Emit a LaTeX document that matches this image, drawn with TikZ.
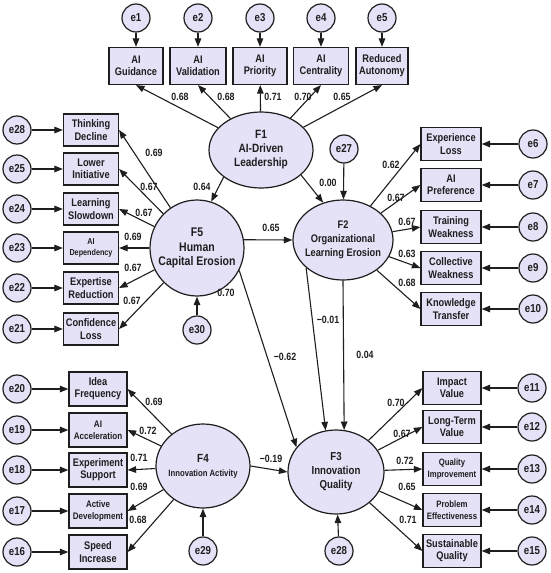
\documentclass[tikz,border=0pt]{standalone}
\usepackage{fontspec}
\setmainfont{Liberation Sans}[FakeStretch=0.84]
\usepackage{tikz}
\usetikzlibrary{arrows.meta,shapes.geometric}

\definecolor{lav}{RGB}{229,225,247}
\definecolor{ink}{RGB}{30,30,30}

\begin{document}
\begin{tikzpicture}[x=1pt,y=-1pt,every node/.style={text=ink},
    lat/.style={ellipse,draw=ink,fill=lav,line width=1.2pt,inner sep=-8pt,align=center},
    obs/.style={rectangle,draw=ink,fill=lav,line width=1.2pt,inner sep=1pt,minimum height=33pt,align=center,font=\bfseries\fontsize{11}{12.2}\selectfont},
    err/.style={circle,draw=ink,fill=lav,line width=1.2pt,minimum size=28pt,inner sep=0pt,font=\bfseries\fontsize{11.5}{12}\selectfont},
    coef/.style={inner sep=0pt,font=\bfseries\fontsize{10.5}{11}\selectfont},
    arr/.style={draw=ink,line width=1.1pt,-{Triangle[length=8.5pt,width=6.5pt]}}]
  \useasboundingbox[fill=white] (0,0) rectangle (550,573);

  % latent factors
  \node[lat,minimum width=104pt,minimum height=76pt,font=\bfseries\fontsize{12}{14}\selectfont](F1) at (261,150){F1\\AI-Driven\\Leadership};
  \node[lat,minimum width=94pt,minimum height=96pt,font=\bfseries\fontsize{12.5}{14.5}\selectfont](F5) at (197,248){F5\\Human\\Capital Erosion};
  \node[lat,minimum width=100pt,minimum height=80pt,font=\bfseries\fontsize{11}{14}\selectfont](F2) at (343,240){F2\\Organizational\\Learning Erosion};
  \node[lat,minimum width=94pt,minimum height=84pt,font=\bfseries\fontsize{11.8}{14}\selectfont](F4) at (203,466){F4\\{\fontsize{9.2}{12}\selectfont Innovation Activity}};
  \node[lat,minimum width=96pt,minimum height=84pt,font=\bfseries\fontsize{11.5}{14}\selectfont](F3) at (336,472){F3\\Innovation\\Quality};

  % F1 indicators
  \node[obs,minimum width=54pt,minimum height=37pt](x1) at (136,66){AI\\Guidance};
  \node[obs,minimum width=56pt,minimum height=37pt](x2) at (198,66){AI\\Validation};
  \node[obs,minimum width=54pt,minimum height=37pt](x3) at (260,66){AI\\Priority};
  \node[obs,minimum width=55pt,minimum height=37pt](x4) at (321,66){AI\\Centrality};
  \node[obs,minimum width=52pt,minimum height=37pt](x5) at (382,66){Reduced\\Autonomy};
  \node[err](e1) at (136,18){e1};
  \node[err](e2) at (198,18){e2};
  \node[err](e3) at (260,18){e3};
  \node[err](e4) at (321,18){e4};
  \node[err](e5) at (382,18){e5};

  % F5 indicators
  \node[obs,minimum width=55pt,minimum height=32pt](h1) at (91,130){Thinking\\Decline};
  \node[obs,minimum width=55pt,minimum height=32pt](h2) at (91,169){Lower\\Initiative};
  \node[obs,minimum width=55pt,minimum height=32pt](h3) at (91,209){Learning\\Slowdown};
  \node[obs,minimum width=55pt,minimum height=32pt,font=\bfseries\fontsize{8.6}{11}\selectfont](h4) at (91,248){AI\\Dependency};
  \node[obs,minimum width=55pt,minimum height=32pt](h5) at (91,288){Expertise\\Reduction};
  \node[obs,minimum width=55pt,minimum height=32pt](h6) at (91,329){Confidence\\Loss};
  \node[err](e28) at (17,130){e28};
  \node[err](e25) at (17,169){e25};
  \node[err](e24) at (17,209){e24};
  \node[err](e23) at (17,248){e23};
  \node[err](e22) at (17,288){e22};
  \node[err](e21) at (17,329){e21};

  % F2 indicators
  \node[obs,minimum width=60pt](o1) at (451,144){Experience\\Loss};
  \node[obs,minimum width=60pt](o2) at (451,185){AI\\Preference};
  \node[obs,minimum width=60pt](o3) at (451,227){Training\\Weakness};
  \node[obs,minimum width=60pt](o4) at (451,268){Collective\\Weakness};
  \node[obs,minimum width=60pt](o5) at (451,309){Knowledge\\Transfer};
  \node[err](e6) at (533,144){e6};
  \node[err](e7) at (533,185){e7};
  \node[err](e8) at (533,227){e8};
  \node[err](e9) at (533,268){e9};
  \node[err](e10) at (533,309){e10};

  % F4 indicators
  \node[obs,minimum width=58pt,minimum height=34pt](a1) at (98,389){Idea\\Frequency};
  \node[obs,minimum width=58pt,minimum height=34pt,font=\bfseries\fontsize{9.6}{12}\selectfont](a2) at (98,430){AI\\Acceleration};
  \node[obs,minimum width=58pt,minimum height=34pt](a3) at (98,470){Experiment\\Support};
  \node[obs,minimum width=58pt,minimum height=34pt,font=\bfseries\fontsize{9.5}{12}\selectfont](a4) at (98,511){Active\\Development};
  \node[obs,minimum width=58pt,minimum height=34pt](a5) at (98,552){Speed\\Increase};
  \node[err](e20) at (17,389){e20};
  \node[err](e19) at (17,430){e19};
  \node[err](e18) at (17,470){e18};
  \node[err](e17) at (17,511){e17};
  \node[err](e16) at (17,552){e16};

  % F3 indicators
  \node[obs,minimum width=58pt](q1) at (452,388){Impact\\Value};
  \node[obs,minimum width=58pt](q2) at (452,427){Long-Term\\Value};
  \node[obs,minimum width=58pt,font=\bfseries\fontsize{9.2}{11.5}\selectfont](q3) at (452,469){Quality\\Improvement};
  \node[obs,minimum width=58pt,font=\bfseries\fontsize{9.3}{12}\selectfont](q4) at (452,510){Problem\\Effectiveness};
  \node[obs,minimum width=58pt](q5) at (452,551){Sustainable\\Quality};
  \node[err](e11) at (532,388){e11};
  \node[err](e12) at (532,427){e12};
  \node[err](e13) at (532,469){e13};
  \node[err](e14) at (532,510){e14};
  \node[err](e15) at (532,551){e15};

  % disturbances
  \node[err](e27) at (344,149){e27};
  \node[err](e30) at (197,330){e30};
  \node[err](e29) at (203,551){e29};
  \node[err](e28b) at (339,551){e28};

  % loadings
  \draw[arr] (F1) -- (x1.south);
  \draw[arr] (F1) -- (x2.south);
  \draw[arr] (F1) -- (x3);
  \draw[arr] (F1) -- (x4.south);
  \draw[arr] (F1) -- (x5.south);
  \draw[arr] (F5) -- (h1.east);
  \draw[arr] (F5) -- (h2.east);
  \draw[arr] (F5) -- (h3.east);
  \draw[arr] (F5) -- (h4.east);
  \draw[arr] (F5) -- (h5.east);
  \draw[arr] (F5) -- (h6.east);
  \draw[arr] (F2) -- (o1.west);
  \draw[arr] (F2) -- (o2.west);
  \draw[arr] (F2) -- (o3.west);
  \draw[arr] (F2) -- (o4.west);
  \draw[arr] (F2) -- (o5.west);
  \draw[arr] (F4) -- (a1.east);
  \draw[arr] (F4) -- (a2.east);
  \draw[arr] (F4) -- (a3.east);
  \draw[arr] (F4) -- (a4.east);
  \draw[arr] (F4) -- (a5.east);
  \draw[arr] (F3) -- (q1.west);
  \draw[arr] (F3) -- (q2.west);
  \draw[arr] (F3) -- (q3.west);
  \draw[arr] (F3) -- (q4.west);
  \draw[arr] (F3) -- (q5.west);

  % errors
  \draw[arr] (e1) -- (x1);
  \draw[arr] (e2) -- (x2);
  \draw[arr] (e3) -- (x3);
  \draw[arr] (e4) -- (x4);
  \draw[arr] (e5) -- (x5);
  \draw[arr] (e28) -- (h1);
  \draw[arr] (e25) -- (h2);
  \draw[arr] (e24) -- (h3);
  \draw[arr] (e23) -- (h4);
  \draw[arr] (e22) -- (h5);
  \draw[arr] (e21) -- (h6);
  \draw[arr] (e6) -- (o1);
  \draw[arr] (e7) -- (o2);
  \draw[arr] (e8) -- (o3);
  \draw[arr] (e9) -- (o4);
  \draw[arr] (e10) -- (o5);
  \draw[arr] (e20) -- (a1);
  \draw[arr] (e19) -- (a2);
  \draw[arr] (e18) -- (a3);
  \draw[arr] (e17) -- (a4);
  \draw[arr] (e16) -- (a5);
  \draw[arr] (e11) -- (q1);
  \draw[arr] (e12) -- (q2);
  \draw[arr] (e13) -- (q3);
  \draw[arr] (e14) -- (q4);
  \draw[arr] (e15) -- (q5);
  \draw[arr] (e27) -- (F2);
  \draw[arr] (e30) -- (F5);
  \draw[arr] (e29) -- (F4);
  \draw[arr] (e28b) -- (F3);

  % structural paths
  \draw[arr] (F1.216) -- (F5.73);
  \draw[arr] (F1.328) -- (F2.118);
  \draw[arr] (F5.10) -- (F2.west);
  \draw[arr] (F5.332) -- (F3.148);
  \draw[arr] (F2.217) -- (F3.104);
  \draw[arr] (F2.south) -- (F3.79);
  \draw[arr] (F4.east) -- (F3.west);

  % coefficients
  \node[coef](kx1) at (180,97){0.68};
  \node[coef](kx2) at (226,97){0.68};
  \node[coef](kx3) at (273,97){0.71};
  \node[coef](kx4) at (303,97){0.70};
  \node[coef](kx5) at (342,97){0.65};
  \node[coef](kh1) at (154,153){0.69};
  \node[coef](kh2) at (149,187){0.67};
  \node[coef](kh3) at (144,213){0.67};
  \node[coef](kh4) at (133,237){0.69};
  \node[coef](kh5) at (133,268){0.67};
  \node[coef](kh6) at (132,301){0.67};
  \node[coef](ko1) at (391,165){0.62};
  \node[coef](ko2) at (396,198){0.67};
  \node[coef](ko3) at (407,222){0.67};
  \node[coef](ko4) at (407,254){0.63};
  \node[coef](ko5) at (407,283){0.68};
  \node[coef](ka1) at (154,402){0.69};
  \node[coef](ka2) at (148,431){0.72};
  \node[coef](ka3) at (139,458){0.71};
  \node[coef](ka4) at (139,487){0.69};
  \node[coef](ka5) at (138,520){0.68};
  \node[coef](kq1) at (396,403){0.70};
  \node[coef](kq2) at (402,434){0.67};
  \node[coef](kq3) at (405,461){0.72};
  \node[coef](kq4) at (407,487){0.65};
  \node[coef](kq5) at (408,520){0.71};
  \node[coef](k15) at (202,187){0.64};
  \node[coef](k12) at (328,183){0.00};
  \node[coef](k52) at (271,228){0.65};
  \node[coef](k53a) at (226,293){0.70};
  \node[coef](k53b) at (285,357){−0.62};
  \node[coef](k23a) at (328,320){−0.01};
  \node[coef](k23b) at (365,355){0.04};
  \node[coef](k43) at (271,459){−0.19};
\end{tikzpicture}
\end{document}
